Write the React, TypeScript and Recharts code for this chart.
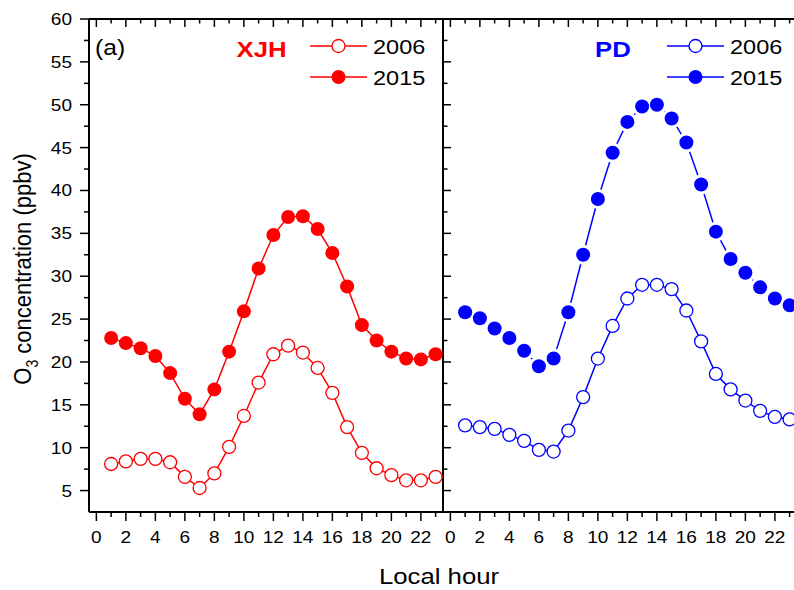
import { LineChart, Line, XAxis, YAxis, Legend } from "recharts";

const HOURS = [1, 2, 3, 4, 5, 6, 7, 8, 9, 10, 11, 12, 13, 14, 15, 16, 17, 18, 19, 20, 21, 22, 23];

// XJH site
const XJH_2006 = [8.1, 8.4, 8.7, 8.7, 8.3, 6.6, 5.3, 7.0, 10.1, 13.7, 17.6, 20.9, 21.9, 21.1, 19.3, 16.4, 12.4, 9.4, 7.6, 6.8, 6.2, 6.2, 6.6];
const XJH_2015 = [22.8, 22.2, 21.6, 20.7, 18.7, 15.7, 13.9, 16.8, 21.2, 25.9, 30.9, 34.8, 36.9, 37.0, 35.5, 32.7, 28.8, 24.3, 22.5, 21.2, 20.4, 20.3, 20.9];

// PD site
const PD_2006 = [12.6, 12.4, 12.2, 11.5, 10.8, 9.75, 9.55, 12.0, 15.9, 20.4, 24.2, 27.4, 29.0, 29.0, 28.5, 26.0, 22.4, 18.6, 16.8, 15.5, 14.3, 13.6, 13.3];
const PD_2015 = [25.8, 25.1, 23.9, 22.8, 21.3, 19.5, 20.4, 25.8, 32.5, 39.0, 44.4, 48.0, 49.8, 50.0, 48.4, 45.6, 40.7, 35.2, 32.0, 30.4, 28.7, 27.4, 26.6];

const HOUR_TICKS = [0, 1, 2, 3, 4, 5, 6, 7, 8, 9, 10, 11, 12, 13, 14, 15, 16, 17, 18, 19, 20, 21, 22, 23];
const Y_TICKS = [5, 7.5, 10, 12.5, 15, 17.5, 20, 22.5, 25, 27.5, 30, 32.5, 35, 37.5, 40, 42.5, 45, 47.5, 50, 52.5, 55, 57.5, 60];

const xjhData = HOURS.map((hour, i) => ({ hour, y2006: XJH_2006[i], y2015: XJH_2015[i] }));
const pdData = HOURS.map((hour, i) => ({ hour, y2006: PD_2006[i], y2015: PD_2015[i] }));

const FONT = '"Liberation Sans", Arial, sans-serif';
const SX = 1.12; // the source figure is a bit stretched sideways
const RED = "#FF0000";
const BLUE = "#0000FF";
const AXIS_LINE = { stroke: "#000", strokeWidth: 2 };

type TickSpec = { dx: number; dy: number; inward: boolean; axis: "x" | "y"; label: boolean };

function makeTick(spec: TickSpec) {
  return function Tick(props: any) {
    const { x, y, payload } = props;
    const v = Number(payload.value);
    const major = spec.axis === "x" ? v % 2 === 0 : v % 5 === 0;
    const len = spec.inward ? (major ? 8 : 4.5) : major ? 9 : 5;
    let label = null;
    if (spec.label && major) {
      label =
        spec.axis === "x" ? (
          <text transform={`translate(${x},${y + 31}) scale(${SX},1)`} textAnchor="middle" fontSize={17} fontFamily={FONT} fill="#000">
            {v}
          </text>
        ) : (
          <text transform={`translate(${x - 17},${y + 6}) scale(${SX},1)`} textAnchor="end" fontSize={17} fontFamily={FONT} fill="#000">
            {v}
          </text>
        );
    }
    return (
      <g>
        <line x1={x} y1={y} x2={x + spec.dx * len} y2={y + spec.dy * len} stroke="#000" strokeWidth={1.5} />
        {label}
      </g>
    );
  };
}

const bottomTick = makeTick({ dx: 0, dy: 1, inward: false, axis: "x", label: true });
const topTick = makeTick({ dx: 0, dy: 1, inward: true, axis: "x", label: false });
const leftOutTick = makeTick({ dx: -1, dy: 0, inward: false, axis: "y", label: true });
const leftInTick = makeTick({ dx: 1, dy: 0, inward: true, axis: "y", label: false });
const rightInTick = makeTick({ dx: -1, dy: 0, inward: true, axis: "y", label: false });

function YTitle() {
  return (
    <text transform={`translate(31,269) scale(${SX},1) rotate(-90)`} textAnchor="middle" fontSize={22} fontFamily={FONT} fill="#000">
      O<tspan fontSize={14} dy={6}>3</tspan>
      <tspan dy={-6}> concentration (ppbv)</tspan>
    </text>
  );
}

function LegendBox(props: any) {
  const { payload, title, color, titleX, tag } = props;
  const items = (payload || []).filter((item: any) => item.value === "2006" || item.value === "2015");
  return (
    <svg width={340} height={72} style={{ display: "block", overflow: "visible" }}>
      {tag && (
        <text transform={`translate(5,35) scale(${SX},1)`} fontSize={22} fontFamily={FONT} fill="#000">
          {tag}
        </text>
      )}
      <text transform={`translate(${titleX},37) scale(${SX},1)`} textAnchor="middle" fontSize={23} fontWeight="bold" fontFamily={FONT} fill={color}>
        {title}
      </text>
      {items.map((item: any, i: number) => {
        const cy = 26 + i * 31;
        const filled = item.value === "2015";
        return (
          <g key={item.value}>
            <line x1={220} x2={277} y1={cy} y2={cy} stroke={color} strokeWidth={1.5} />
            {filled ? (
              <circle cx={248.5} cy={cy} r={7} fill={color} />
            ) : (
              <circle cx={248.5} cy={cy} r={6.5} fill="#fff" stroke={color} strokeWidth={1.3} />
            )}
            <text transform={`translate(283,${cy + 7.5}) scale(${SX},1)`} fontSize={21} fontFamily={FONT} fill="#000">
              {item.value}
            </text>
          </g>
        );
      })}
    </svg>
  );
}

function Panel(props: any) {
  const { data, color, title, titleX, tag, first, width, left, legendLeft, gap } = props;
  return (
    <div style={{ position: "absolute", left, top: 0 }}>
      <LineChart
        width={width}
        height={590}
        data={data}
        margin={{ top: 19, right: 2, bottom: 18, left: first ? 29 : 0 }}
      >
        <XAxis
          xAxisId="b"
          dataKey="hour"
          type="number"
          domain={[-0.5, 23.5]}
          ticks={HOUR_TICKS}
          interval={0}
          height={60}
          tickSize={0}
          tickMargin={0}
          tickLine={false}
          axisLine={AXIS_LINE}
          tick={bottomTick}
        />
        <XAxis
          xAxisId="t"
          orientation="top"
          mirror
          dataKey="hour"
          type="number"
          domain={[-0.5, 23.5]}
          ticks={HOUR_TICKS}
          interval={0}
          tickSize={0}
          tickMargin={0}
          tickLine={false}
          axisLine={AXIS_LINE}
          tick={topTick}
        />
        <YAxis
          yAxisId="l"
          type="number"
          domain={[2.5, 60]}
          ticks={Y_TICKS}
          interval={0}
          width={60}
          mirror={!first}
          tickSize={0}
          tickMargin={0}
          tickLine={false}
          axisLine={AXIS_LINE}
          tick={first ? leftOutTick : leftInTick}
          label={first ? <YTitle /> : undefined}
        />
        <YAxis
          yAxisId="r"
          orientation="right"
          mirror
          type="number"
          domain={[2.5, 60]}
          ticks={Y_TICKS}
          interval={0}
          tickSize={0}
          tickMargin={0}
          tickLine={false}
          axisLine={AXIS_LINE}
          tick={rightInTick}
        />
        <Line
          xAxisId="b"
          yAxisId="l"
          dataKey="y2006"
          name="2006"
          stroke={color}
          strokeWidth={1.5}
          dot={{ r: 6.5, fill: "#fff", stroke: color, strokeWidth: 1.3 }}
          activeDot={false}
          isAnimationActive={false}
        />
        <Line
          xAxisId="b"
          yAxisId="l"
          dataKey="y2015"
          name="2015"
          stroke={color}
          strokeWidth={1.5}
          dot={gap ? false : { r: 7, fill: color, stroke: "none" }}
          activeDot={false}
          isAnimationActive={false}
        />
        {gap && (
          <Line
            xAxisId="b"
            yAxisId="l"
            dataKey="y2015"
            name="gap"
            legendType="none"
            stroke="none"
            dot={{ r: 10, fill: "#fff", stroke: "none" }}
            activeDot={false}
            isAnimationActive={false}
          />
        )}
        {gap && (
          <Line
            xAxisId="b"
            yAxisId="l"
            dataKey="y2015"
            name="dots"
            legendType="none"
            stroke="none"
            dot={{ r: 7, fill: color, stroke: "none" }}
            activeDot={false}
            isAnimationActive={false}
          />
        )}
        <Legend
          layout="vertical"
          align="center"
          verticalAlign="middle"
          wrapperStyle={{ left: legendLeft, top: 20, width: 340, height: 72 }}
          content={(p: any) => <LegendBox payload={p.payload} title={title} color={color} titleX={titleX} tag={tag} />}
        />
      </LineChart>
    </div>
  );
}

export default function App() {
  return (
    <div style={{ position: "fixed", left: 0, top: 0, width: 794, height: 590, overflow: "hidden", background: "#fff" }}>
      <Panel data={xjhData} color={RED} title="XJH" titleX={171.5} tag="(a)" first width={445} left={0} legendLeft={90} />
      <Panel data={pdData} color={BLUE} title="PD" titleX={166} width={356} left={443} legendLeft={4} gap />
      <svg width={794} height={590} style={{ position: "absolute", left: 0, top: 0, pointerEvents: "none" }}>
        <text transform={`translate(439,584) scale(${SX},1)`} textAnchor="middle" fontSize={23} fontFamily={FONT} fill="#000">
          Local hour
        </text>
      </svg>
    </div>
  );
}
